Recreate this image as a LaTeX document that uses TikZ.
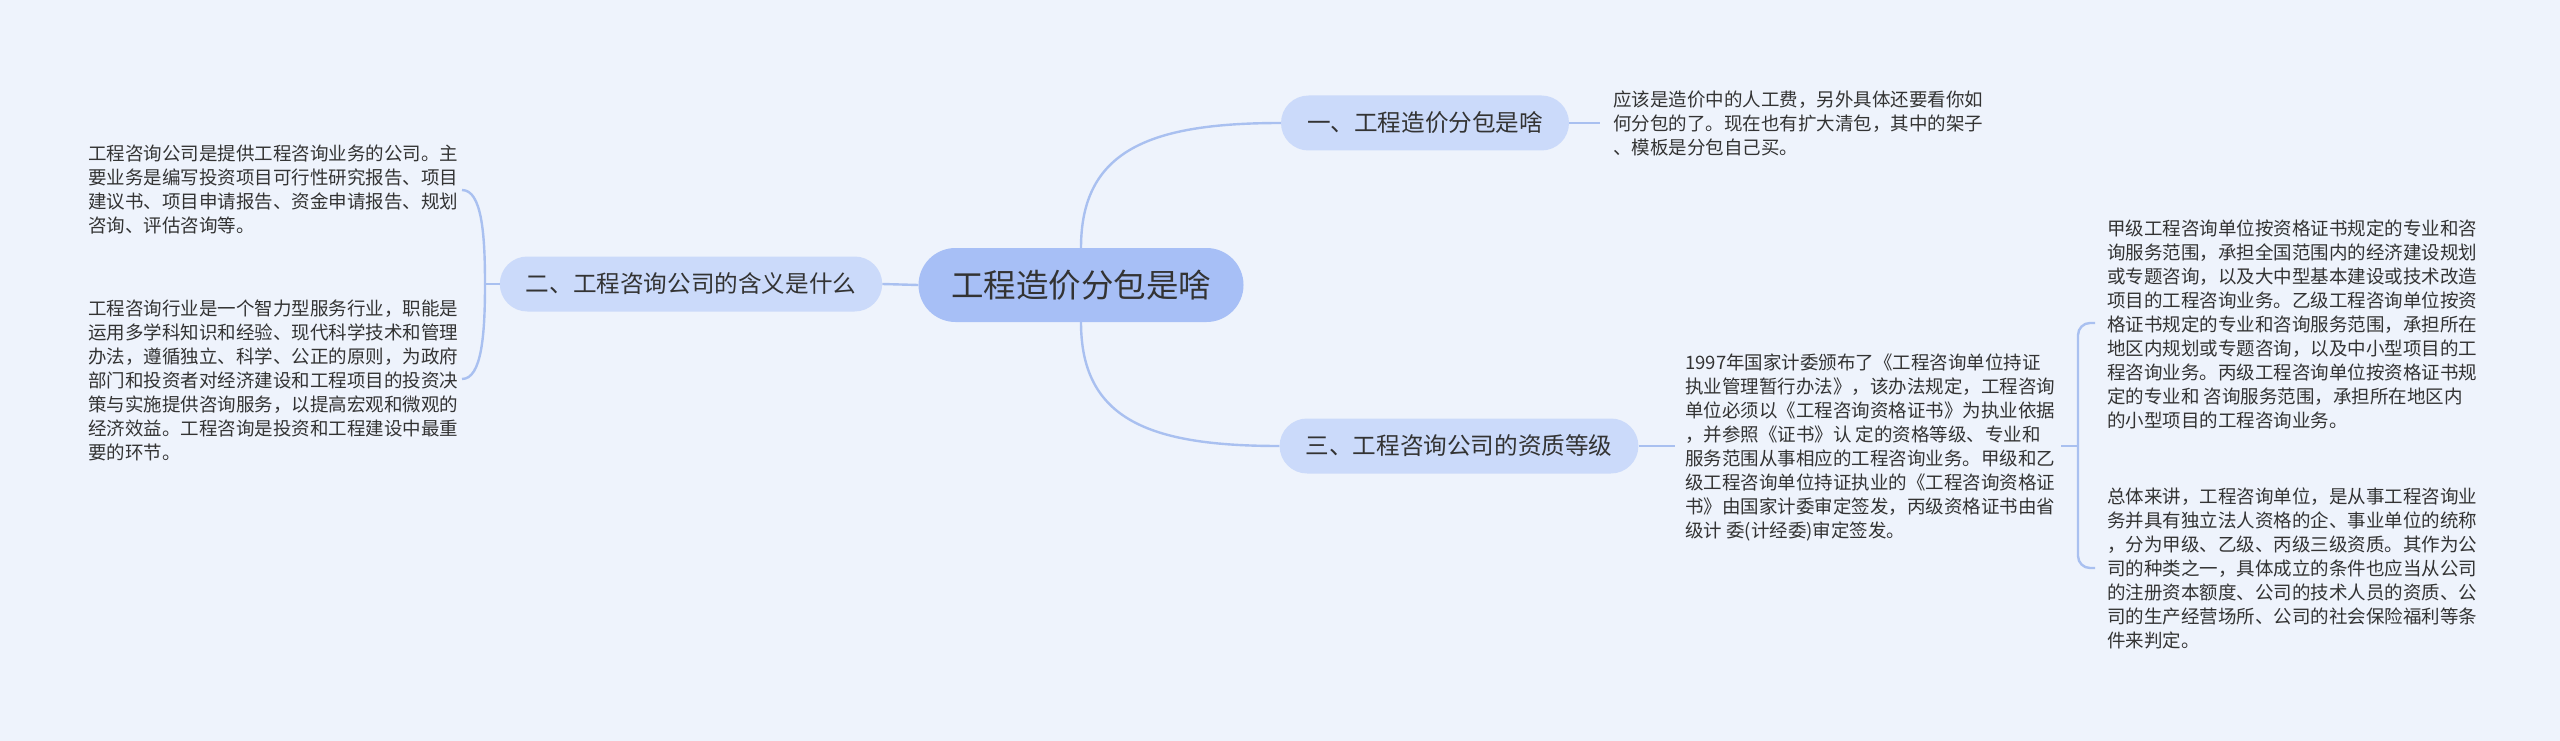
\documentclass[tikz,border=0pt]{standalone}
\usepackage{fontspec}
\setmainfont{Noto Sans CJK SC}
\definecolor{bgc}{HTML}{EEF3FC}
\definecolor{rootc}{HTML}{A7BFF6}
\definecolor{branchc}{HTML}{CBDAFA}
\definecolor{linec}{HTML}{A9C0F0}
\definecolor{textc}{HTML}{333333}
\tikzset{
  rootbox/.style={rectangle, rounded corners=37pt, fill=rootc, minimum height=74pt, minimum width=325pt, inner xsep=32pt, inner ysep=0pt, text=textc, font=\fontsize{32.5}{38}\selectfont},
  branchbox/.style={rectangle, rounded corners=27.5pt, fill=branchc, minimum height=55pt, inner xsep=26pt, inner ysep=0pt, text=textc, font=\fontsize{23.6}{28}\selectfont},
  leaftext/.style={anchor=base west, inner sep=0pt, text=textc},
  conn/.style={draw=linec, line width=2.4pt},
}
\newcommand{\leafpar}[1]{\parbox[t]{420pt}{\raggedright\fontsize{18.5}{24}\selectfont #1}}
\begin{document}
\begin{tikzpicture}[x=1pt,y=-1pt]
\useasboundingbox[fill=bgc] (0,0) rectangle (2560,741);

% main nodes
\node[rootbox] (c) at (1081,285) {工程造价分包是啥};
\node[branchbox] (b1) at (1425,123) {一、工程造价分包是啥};
\node[branchbox] (b2) at (691,284) {二、工程咨询公司的含义是什么};
\node[branchbox] (b3) at (1459,446) {三、工程咨询公司的资质等级};

% leaves
\node[leaftext] (l1) at (1613,107) {\leafpar{应该是造价中的人工费，另外具体还要看你如\\何分包的了。现在也有扩大清包，其中的架子\\、模板是分包自己买。}};

\node[leaftext] (l2a) at (88,160.5) {\leafpar{工程咨询公司是提供工程咨询业务的公司。主\\要业务是编写投资项目可行性研究报告、项目\\建议书、项目申请报告、资金申请报告、规划\\咨询、评估咨询等。}};

\node[leaftext] (l2b) at (88,315.6) {\leafpar{工程咨询行业是一个智力型服务行业，职能是\\运用多学科知识和经验、现代科学技术和管理\\办法，遵循独立、科学、公正的原则，为政府\\部门和投资者对经济建设和工程项目的投资决\\策与实施提供咨询服务，以提高宏观和微观的\\经济效益。工程咨询是投资和工程建设中最重\\要的环节。}};

\node[leaftext] (l3) at (1685,369.5) {\leafpar{1997年国家计委颁布了《工程咨询单位持证\\执业管理暂行办法》，该办法规定，工程咨询\\单位必须以《工程咨询资格证书》为执业依据\\，并参照《证书》认 定的资格等级、专业和\\服务范围从事相应的工程咨询业务。甲级和乙\\级工程咨询单位持证执业的《工程咨询资格证\\书》由国家计委审定签发，丙级资格证书由省\\级计 委(计经委)审定签发。}};

\node[leaftext] (l3a) at (2107,235.6) {\leafpar{甲级工程咨询单位按资格证书规定的专业和咨\\询服务范围，承担全国范围内的经济建设规划\\或专题咨询，以及大中型基本建设或技术改造\\项目的工程咨询业务。乙级工程咨询单位按资\\格证书规定的专业和咨询服务范围，承担所在\\地区内规划或专题咨询，以及中小型项目的工\\程咨询业务。丙级工程咨询单位按资格证书规\\定的专业和 咨询服务范围，承担所在地区内\\的小型项目的工程咨询业务。}};

\node[leaftext] (l3b) at (2107,503) {\leafpar{总体来讲，工程咨询单位，是从事工程咨询业\\务并具有独立法人资格的企、事业单位的统称\\，分为甲级、乙级、丙级三级资质。其作为公\\司的种类之一，具体成立的条件也应当从公司\\的注册资本额度、公司的技术人员的资质、公\\司的生产经营场所、公司的社会保险福利等条\\件来判定。}};

% coordinates for connector ends
\coordinate (e1) at (1600,123);
\coordinate (jl) at (485,284);
\coordinate (tl) at (462,190);
\coordinate (bl) at (462,379);
\coordinate (e3) at (1675,446);
\coordinate (s3) at (2061,446);
\coordinate (jr) at (2078,446);
\coordinate (tr) at (2095,323);
\coordinate (br) at (2095,568);

% connectors
\draw[conn] (c.north) .. controls (1081,150) and (1150,123) .. (b1.west);
\draw[conn] (c.south) .. controls (1081,420) and (1150,446) .. (b3.west);
\draw[conn] (c.west) -- (b2.east);
\draw[conn] (b1.east) -- (e1);
\draw[conn] (b3.east) -- (e3);
\draw[conn] (b2.west) -- (jl);
\draw[conn] (jl) .. controls (485,235) and (482,190) .. (tl);
\draw[conn] (jl) .. controls (485,333) and (482,379) .. (bl);
\draw[conn] (s3) -- (jr);
\draw[conn, rounded corners=12pt] (tr) -- (2078,323) -- (2078,568) -- (br);
\end{tikzpicture}
\end{document}
